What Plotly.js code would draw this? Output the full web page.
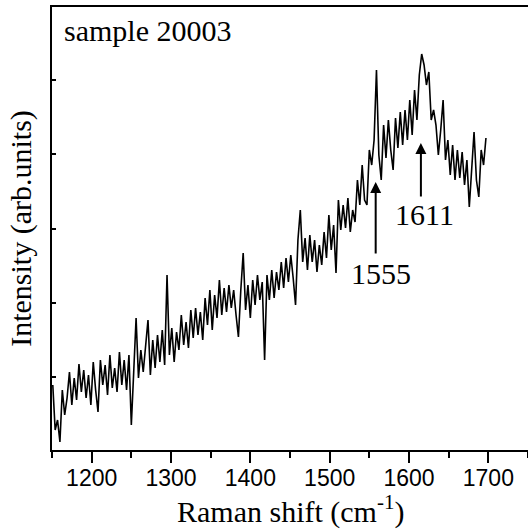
<!DOCTYPE html>
<html>
<head>
<meta charset="utf-8">
<script src="https://cdn.plot.ly/plotly-3.0.1.min.js"></script>
<style>html,body{margin:0;padding:0;background:#fff;}#chart{width:528px;height:531px;}</style>
</head>
<body>
<div id="chart"></div>
<script>
// Raman shift (cm^-1)
const ramanShift = [
1151,1154,1157,1160,1163,1166,1169,1172,1175,1178,
1181,1184,1187,1190,1193,1196,1199,1202,1205,1208,
1211,1214,1217,1220,1223,1226,1229,1232,1235,1238,
1241,1244,1247,1250,1253,1256,1259,1262,1265,1268,
1271,1274,1277,1280,1283,1286,1289,1292,1295,1298,
1301,1304,1307,1310,1313,1316,1319,1322,1325,1328,
1331,1334,1337,1340,1343,1346,1349,1352,1355,1358,
1361,1364,1367,1370,1373,1376,1379,1382,1385,1388,
1391,1394,1397,1400,1403,1406,1409,1412,1415,1418,
1421,1424,1427,1430,1433,1436,1439,1442,1445,1448,
1451,1454,1457,1460,1463,1466,1469,1472,1475,1478,
1481,1484,1487,1490,1493,1496,1499,1502,1505,1508,
1511,1514,1517,1520,1523,1526,1529,1532,1535,1538,
1541,1544,1547,1550,1553,1556,1559,1562,1565,1568,
1571,1574,1577,1580,1583,1586,1589,1592,1595,1598,
1601,1604,1607,1610,1613,1616,1619,1622,1625,1628,
1631,1634,1637,1640,1643,1646,1649,1652,1655,1658,
1661,1664,1667,1670,1673,1676,1679,1682,1685,1688,
1691,1694,1697
];
// Intensity (arb. units)
const intensity = [
65,20,30,8,60,35,52,78,45,72,
50,86,58,80,52,75,45,88,60,38,
90,65,85,55,95,62,82,58,98,65,
90,60,95,25,78,132,72,100,78,105,
130,75,110,82,115,88,120,85,175,95,
122,88,118,100,135,105,128,102,140,112,
142,115,138,110,152,125,160,120,155,132,
170,135,162,138,165,142,160,135,113,160,
197,140,165,132,170,145,175,150,168,90,
175,150,180,152,178,160,188,162,192,168,
195,172,145,210,240,188,212,180,215,188,
210,178,205,185,218,192,235,200,225,177,
250,220,245,222,252,218,240,228,270,245,
285,250,245,300,285,310,380,295,270,325,
292,330,300,280,332,302,338,305,340,310,
350,315,360,330,375,396,385,365,378,330,
340,325,295,320,350,290,310,275,305,270,
300,272,298,265,290,243,285,318,270,253,
300,285,312
];
// Axis ticks
const xTickVals = [1200,1300,1400,1500,1600,1700];
const yTickVals = [73,147,221,296,370];
// Peak labels
const peakLabels = ["1555","1611"];
const peakArrowX = [1558,1615];
const peakArrowY = [268,307];
const peakLabelX = [1565,1620];
const peakLabelY = [177,236];
const peakArrowLen = [73,55];

const serif = "Liberation Serif, Times New Roman, serif";
const sans = "Liberation Sans, Arial, sans-serif";

const trace = {
  x: ramanShift, y: intensity, type: 'scatter', mode: 'lines',
  line: {color: '#000', width: 1.6}, hoverinfo: 'skip'
};

const annotations = [
  {xref: 'paper', yref: 'paper', x: 0.02, y: 0.946, xanchor: 'left', yanchor: 'middle',
   text: 'sample 20003', showarrow: false, font: {family: serif, size: 30, color: '#000'}},
  {xref: 'paper', yref: 'paper', x: 0.5, y: -0.134, xanchor: 'center', yanchor: 'middle',
   text: 'Raman shift (cm<sup>-1</sup>)', showarrow: false, font: {family: serif, size: 30, color: '#000'}}
];
for (let i = 0; i < peakLabels.length; i++) {
  annotations.push({x: peakArrowX[i], y: peakArrowY[i], xref: 'x', yref: 'y', text: '',
    showarrow: true, ax: 0, ay: peakArrowLen[i], arrowhead: 2, arrowsize: 1.1, arrowwidth: 2,
    arrowcolor: '#000', standoff: 0, startstandoff: 0});
  annotations.push({x: peakLabelX[i], y: peakLabelY[i], xref: 'x', yref: 'y', text: peakLabels[i],
    showarrow: false, xanchor: 'center', yanchor: 'middle', font: {family: serif, size: 30, color: '#000'}});
}

const layout = {
  width: 528, height: 531,
  margin: {l: 52, r: 0, t: 7, b: 81, pad: 0},
  paper_bgcolor: '#fff', plot_bgcolor: '#fff',
  showlegend: false,
  xaxis: {
    range: [1150, 1750], tickvals: xTickVals, ticks: 'outside', ticklen: 11, tickwidth: 2,
    tickcolor: '#000', showline: true, linewidth: 2, linecolor: '#000', mirror: true,
    showgrid: false, zeroline: false, ticklabelstandoff: -5,
    minor: {dtick: 50, tick0: 1150, ticks: 'outside', ticklen: 6, tickwidth: 2, tickcolor: '#000', showgrid: false},
    tickfont: {family: sans, size: 23, color: '#000'}
  },
  yaxis: {
    range: [0, 443], tickvals: yTickVals, ticks: 'inside', ticklen: 4, tickwidth: 1.5,
    tickcolor: '#000', showticklabels: false, showline: true, linewidth: 2, linecolor: '#000',
    mirror: false, showgrid: false, zeroline: false,
    title: {text: 'Intensity (arb.units)', font: {family: serif, size: 30, color: '#000'}, standoff: 10}
  },
  annotations: annotations
};

Plotly.newPlot('chart', [trace], layout, {displayModeBar: false, staticPlot: true});
</script>
</body>
</html>
